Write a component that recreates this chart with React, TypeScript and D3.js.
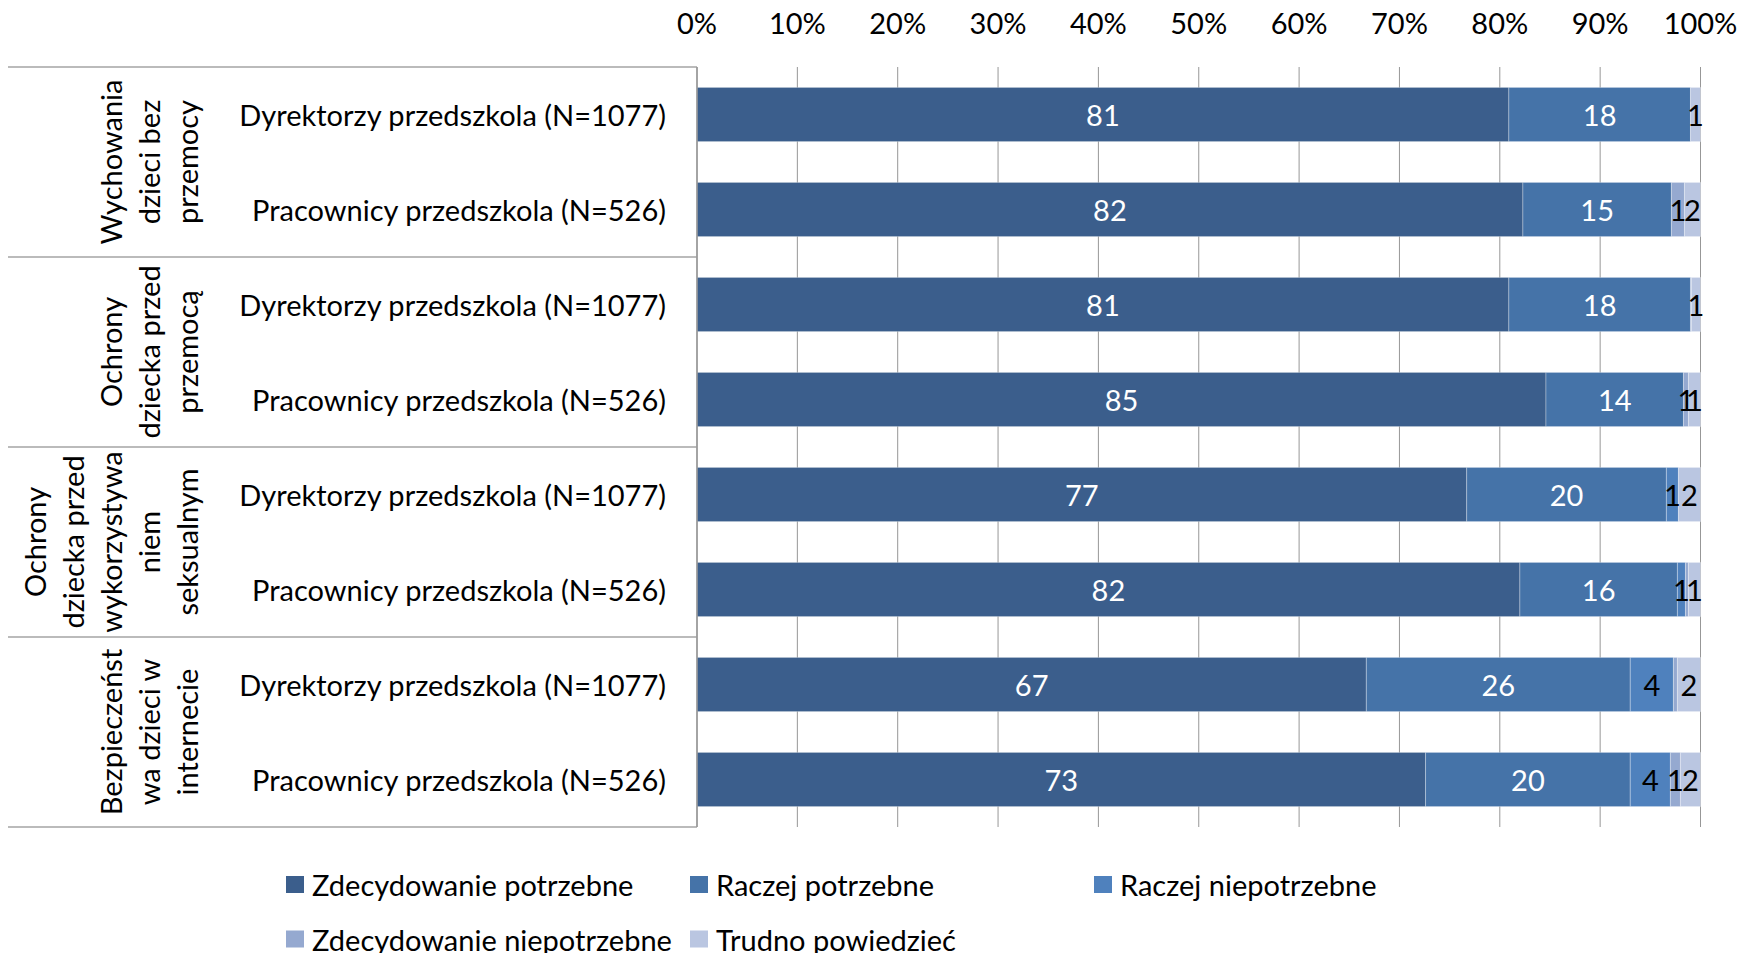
import React from "react";
import * as d3 from "d3";

const groupLines: string[][] = [
  ["Wychowania", "dzieci bez", "przemocy"],
  ["Ochrony", "dziecka przed", "przemocą"],
  ["Ochrony", "dziecka przed", "wykorzystywa", "niem", "seksualnym"],
  ["Bezpieczeńst", "wa dzieci w", "internecie"],
];
const respondents = ["Dyrektorzy przedszkola (N=1077)", "Pracownicy przedszkola (N=526)"];
const seriesNames = [
  "Zdecydowanie potrzebne",
  "Raczej potrzebne",
  "Raczej niepotrzebne",
  "Zdecydowanie niepotrzebne",
  "Trudno powiedzieć",
];
const zdecPotrzebne = [80.9, 82.3, 80.9, 84.6, 76.7, 82.0, 66.7, 72.6];
const raczejPotrzebne = [18.1, 14.8, 18.1, 13.7, 19.9, 15.7, 26.3, 20.4];
const raczejNiepotrzebne = [0, 0, 0, 0, 1.2, 0.8, 4.3, 4.0];
const zdecNiepotrzebne = [0, 1.3, 0.1, 0.5, 0, 0.3, 0.4, 1.0];
const trudno = [1.0, 1.6, 0.9, 1.2, 2.2, 1.2, 2.3, 2.0];
const tickValues = [0, 10, 20, 30, 40, 50, 60, 70, 80, 90, 100];
const colors = ["#3B5E8C", "#4573A8", "#4F81BD", "#95A9D0", "#BAC6E1"];
const labelColors = ["#ffffff", "#ffffff", "#000000", "#000000", "#000000"];

const W = 1740;
const H = 953;
const FONT = "Lato, 'Open Sans', sans-serif";
const FS = 29;

const seriesArrays = [zdecPotrzebne, raczejPotrzebne, raczejNiepotrzebne, zdecNiepotrzebne, trudno];
const rows = zdecPotrzebne.map((_, i) => {
  const r: any = { id: `r${i}`, group: Math.floor(i / 2), resp: respondents[i % 2] };
  seriesNames.forEach((s, k) => (r[s] = seriesArrays[k][i]));
  return r;
});

export default function App() {
  const x = d3.scaleLinear().domain([0, 100]).range([697, 1700.5]);
  const y = d3
    .scaleBand<string>()
    .domain(rows.map((r) => r.id))
    .range([67, 827])
    .paddingInner(0.43)
    .paddingOuter(0.215);
  const stacked = d3.stack<any>().keys(seriesNames)(rows);
  const groupY = d3.scaleLinear().domain([0, groupLines.length]).range([67, 827]);
  const lineGap = 38;

  return (
    <svg
      width={W}
      height={H}
      style={{ position: "absolute", left: 0, top: 0, background: "#fff" }}
      fontFamily={FONT}
    >
      {tickValues.map((t) => (
        <line key={`g${t}`} x1={x(t)} x2={x(t)} y1={67} y2={827} stroke="#979797" strokeWidth={1} />
      ))}
      {tickValues.map((t) => (
        <text key={`t${t}`} x={x(t)} y={34} textAnchor="middle" fontSize={FS} fill="#000">
          {t}%
        </text>
      ))}
      {d3.range(groupLines.length + 1).map((g) => (
        <line key={`h${g}`} x1={8} x2={x(0)} y1={groupY(g)} y2={groupY(g)} stroke="#A5A5A5" strokeWidth={1.5} />
      ))}
      {stacked.map((s, k) => (
        <g key={s.key}>
          {s.map((d, i) => {
            const w = x(d[1]) - x(d[0]);
            if (w <= 0) return null;
            return (
              <rect
                key={i}
                x={x(d[0])}
                y={y(rows[i].id)}
                width={w}
                height={y.bandwidth()}
                fill={colors[k]}
                stroke="rgba(255,255,255,0.3)"
                strokeWidth={1}
              />
            );
          })}
        </g>
      ))}
      {stacked.map((s, k) => (
        <g key={`l${s.key}`}>
          {s.map((d, i) => {
            const v = d[1] - d[0];
            const lab = Math.round(v);
            if (lab < 1) return null;
            return (
              <text
                key={i}
                x={(x(d[0]) + x(d[1])) / 2}
                y={(y(rows[i].id) as number) + y.bandwidth() / 2}
                textAnchor="middle"
                dominantBaseline="central"
                fontSize={FS}
                fill={labelColors[k]}
              >
                {lab}
              </text>
            );
          })}
        </g>
      ))}
      <line x1={x(0)} x2={x(0)} y1={67} y2={827} stroke="#979797" strokeWidth={1.5} />
      {rows.map((r) => (
        <text
          key={`rl${r.id}`}
          x={666}
          y={(y(r.id) as number) + y.bandwidth() / 2}
          textAnchor="end"
          dominantBaseline="central"
          fontSize={FS}
          fill="#000"
        >
          {r.resp}
        </text>
      ))}
      {groupLines.map((lines, g) => {
        const cy = (groupY(g) + groupY(g + 1)) / 2;
        const n = lines.length;
        return (
          <g key={`gl${g}`}>
            {lines.map((ln, k) => {
              const cx = 186 - (n - 1 - k) * lineGap;
              return (
                <text
                  key={k}
                  transform={`translate(${cx},${cy}) rotate(-90)`}
                  textAnchor="middle"
                  dominantBaseline="central"
                  fontSize={FS}
                  fill="#000"
                >
                  {ln}
                </text>
              );
            })}
          </g>
        );
      })}
      {seriesNames.map((s, k) => {
        const col = k % 3;
        const row = Math.floor(k / 3);
        const lx = 286 + col * 404;
        const ly = 884.5 + row * 54.5;
        return (
          <g key={`lg${k}`}>
            <rect x={lx} y={ly - 8.5} width={18} height={17} fill={colors[k]} />
            <text x={lx + 26} y={ly} dominantBaseline="central" fontSize={FS} fill="#000">
              {s}
            </text>
          </g>
        );
      })}
    </svg>
  );
}
